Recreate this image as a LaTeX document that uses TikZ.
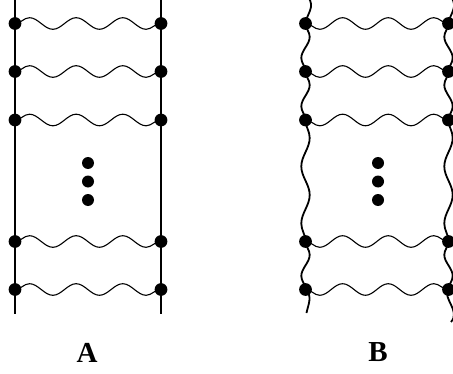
\documentclass[tikz,border=0pt]{standalone}
\usepackage{fontspec}
\setmainfont{Liberation Serif}
\usetikzlibrary{decorations.pathmorphing}

\begin{document}
\begin{tikzpicture}[x=1pt,y=1pt,
vtx/.style={circle,fill,inner sep=0pt,minimum size=12.8pt},
pip/.style={circle,fill,inner sep=0pt,minimum size=12pt},
rail/.style={line width=1.9pt},
wrail/.style={line width=1.8pt},
rung/.style={line width=1.1pt,decorate,decoration={snake,amplitude=5.8pt,segment length=#1}},
wig/.style={decorate,decoration={snake,amplitude=4.2pt,segment length=#1}},
panellab/.style={font=\fontsize{29}{30}\selectfont\bfseries}]
\useasboundingbox (0,0) rectangle (453,373);

% A: straight rails
\coordinate (altop) at (15,376);
\coordinate (albot) at (15,59);
\coordinate (artop) at (161,376);
\coordinate (arbot) at (161,59);
\node (al1) [vtx] at (15,349.5) {};
\node (al2) [vtx] at (15,301.5) {};
\node (al3) [vtx] at (15,253) {};
\node (al4) [vtx] at (15,131.5) {};
\node (al5) [vtx] at (15,83.5) {};
\node (ar1) [vtx] at (161,349.5) {};
\node (ar2) [vtx] at (161,301.5) {};
\node (ar3) [vtx] at (161,253) {};
\node (ar4) [vtx] at (161,131.5) {};
\node (ar5) [vtx] at (161,83.5) {};
\node (ea1) [pip] at (88,210) {};
\node (ea2) [pip] at (88,191.5) {};
\node (ea3) [pip] at (88,173) {};
\draw[rail] (altop) -- (albot);
\draw[rail] (artop) -- (arbot);
\draw[rung=46.6pt] (al1.center) -- (ar1.center);
\draw[rung=46.6pt] (al2.center) -- (ar2.center);
\draw[rung=46.6pt] (al3.center) -- (ar3.center);
\draw[rung=46.6pt] (al4.center) -- (ar4.center);
\draw[rung=46.6pt] (al5.center) -- (ar5.center);
\node (labA) [panellab] at (87,20.5) {A};

% B: wavy rails
\coordinate (bltop) at (308,376);
\coordinate (blbot) at (306.5,60);
\coordinate (brtop) at (451,376);
\coordinate (brbot) at (451,51);
\node (bl1) [vtx] at (305.5,349.5) {};
\node (bl2) [vtx] at (305.5,301.5) {};
\node (bl3) [vtx] at (305.5,253) {};
\node (bl4) [vtx] at (305.5,131.5) {};
\node (bl5) [vtx] at (305.5,83.5) {};
\node (br1) [vtx] at (448.5,349.5) {};
\node (br2) [vtx] at (448.5,301.5) {};
\node (br3) [vtx] at (448.5,253) {};
\node (br4) [vtx] at (448.5,131.5) {};
\node (br5) [vtx] at (448.5,83.5) {};
\node (eb1) [pip] at (378,210) {};
\node (eb2) [pip] at (378,191.5) {};
\node (eb3) [pip] at (378,173) {};
\draw[wrail] (bltop) .. controls (316,366) and (306,358) .. (bl1.center);
\draw[wrail,wig=42.5pt] (bl1.center) -- (bl2.center);
\draw[wrail,wig=43pt] (bl2.center) -- (bl3.center);
\draw[wrail,wig=57.1pt] (bl3.center) -- (bl4.center);
\draw[wrail,wig=42.5pt] (bl4.center) -- (bl5.center);
\draw[wrail] (bl5.center) .. controls (313,77) and (308,68) .. (blbot);
\draw[wrail] (brtop) .. controls (459,366) and (449,358) .. (br1.center);
\draw[wrail,wig=42.5pt,decoration={mirror}] (br1.center) -- (br2.center);
\draw[wrail,wig=43pt,decoration={mirror}] (br2.center) -- (br3.center);
\draw[wrail,wig=57.1pt] (br3.center) -- (br4.center);
\draw[wrail,wig=42.5pt,decoration={mirror}] (br4.center) -- (br5.center);
\draw[wrail] (br5.center) .. controls (442,75) and (461,62) .. (brbot);
\draw[rung=45.65pt,decoration={mirror}] (bl1.center) -- (br1.center);
\draw[rung=45.65pt,decoration={mirror}] (bl2.center) -- (br2.center);
\draw[rung=45.65pt,decoration={mirror}] (bl3.center) -- (br3.center);
\draw[rung=45.65pt,decoration={mirror}] (bl4.center) -- (br4.center);
\draw[rung=45.65pt,decoration={mirror}] (bl5.center) -- (br5.center);
\node (labB) [panellab] at (378,20.5) {B};
\end{tikzpicture}
\end{document}
